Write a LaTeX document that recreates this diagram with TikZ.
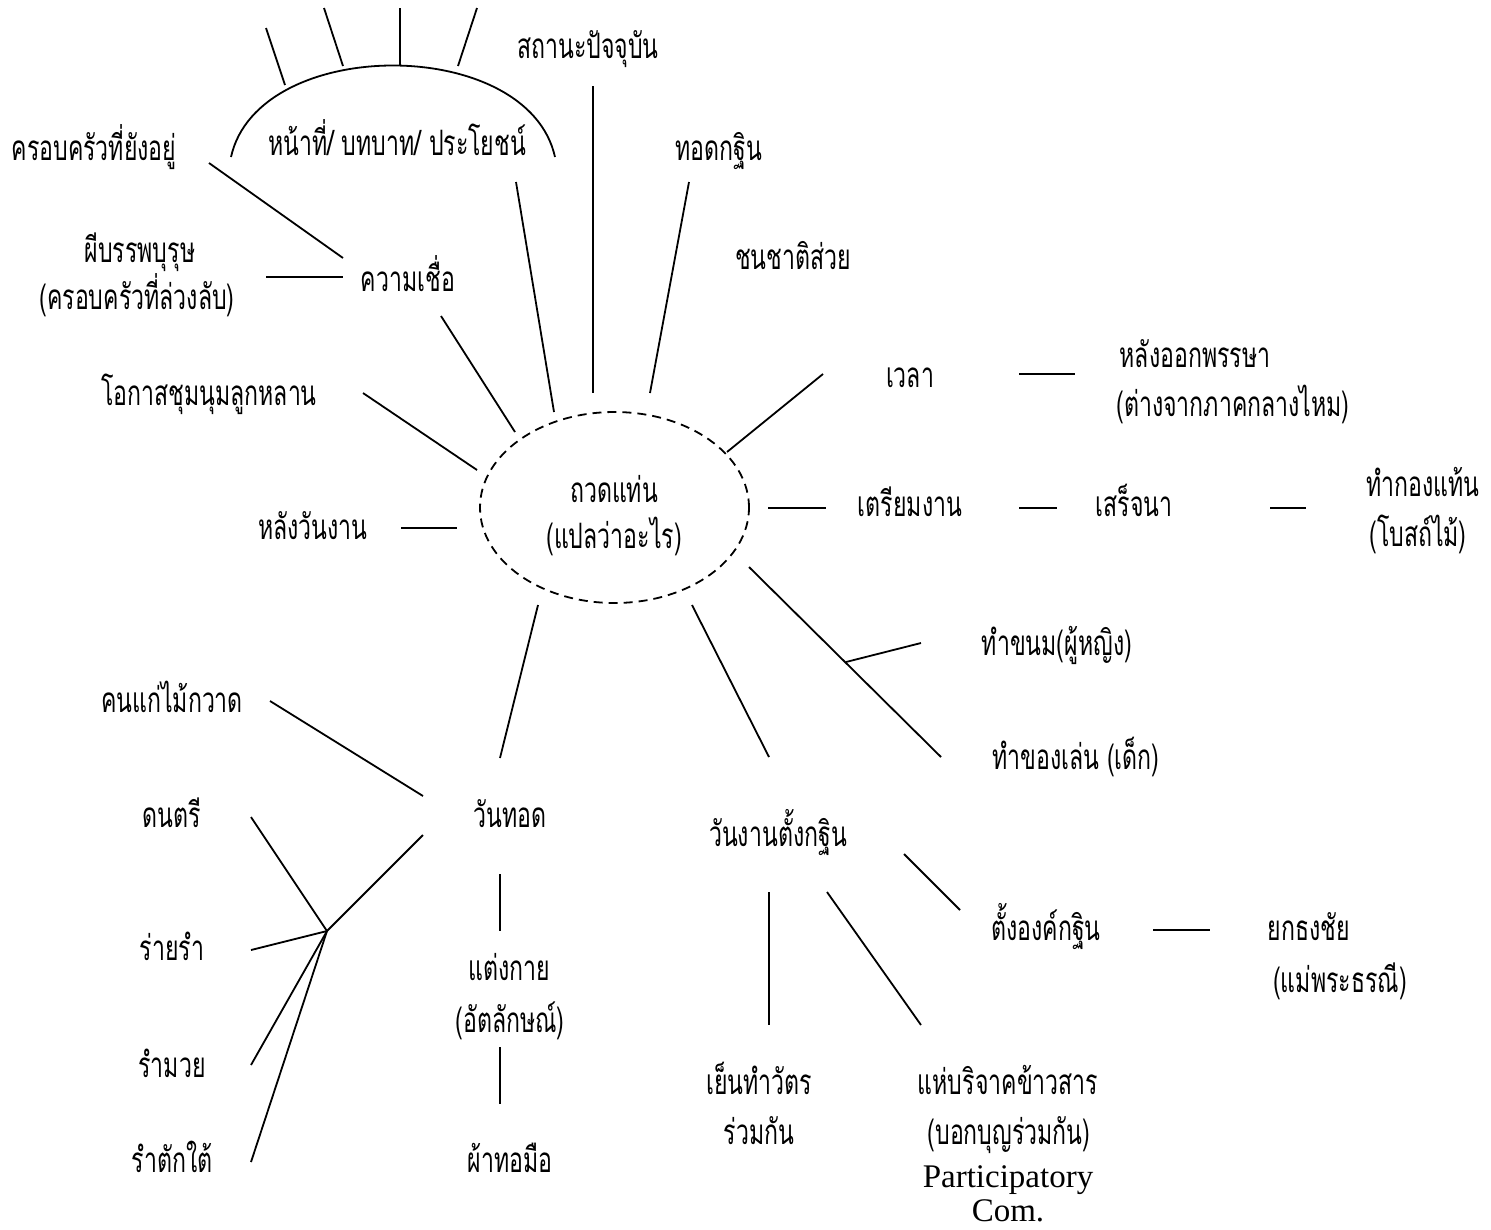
\documentclass[tikz,border=0pt]{standalone}
\usepackage{fontspec}
\usetikzlibrary{shapes.geometric}
\newfontfamily\thaifont[Script=Thai,FakeStretch=0.66]{Loma}
\newfontfamily\latinserif{Liberation Serif}
\begin{document}
\begin{tikzpicture}[x=1pt,y=-1pt,
  lbl/.style={anchor=base, yshift=-12pt, inner sep=0pt, font=\thaifont\fontsize{35}{40}\selectfont},
  lat/.style={anchor=base, yshift=-11pt, inner sep=0pt, font=\latinserif\fontsize{33}{38}\selectfont},
  conn/.style={line width=1.8pt, line cap=butt},
  hubshape/.style={draw, ellipse, dash pattern=on 9pt off 6pt, line width=1.8pt,
                   minimum width=269pt, minimum height=191pt, inner sep=0pt}]
\useasboundingbox (0,0) rectangle (1491,1229);

% central ellipse
\node[hubshape] (hub) at (614.5,507.5) {};
\node[lbl] (hubA) at (614,490) {ถวดแท่น};
\node[lbl] (hubB) at (614,536) {(แปลว่าอะไร)};

% top arc group
\node[lbl] (role) at (397,143) {หน้าที่/ บทบาท/ ประโยชน์};
\coordinate (arcL) at (231,157);
\coordinate (arcR) at (555,157);
\draw[conn] (arcL) .. controls (258,35) and (528,35) .. (arcR);
\coordinate (s1a) at (266,28);  \coordinate (s1b) at (285,85);
\coordinate (s2a) at (324,8);   \coordinate (s2b) at (343,66);
\coordinate (s3a) at (400,8);   \coordinate (s3b) at (400,66);
\coordinate (s4a) at (477,8);   \coordinate (s4b) at (458,66);
\draw[conn] (s1a) -- (s1b);
\draw[conn] (s2a) -- (s2b);
\draw[conn] (s3a) -- (s3b);
\draw[conn] (s4a) -- (s4b);

% top texts
\node[lbl] (family) at (94,148) {ครอบครัวที่ยังอยู่};
\node[lbl] (status) at (588,46) {สถานะปัจจุบัน};
\node[lbl] (thod) at (719,148) {ทอดกฐิน};
\node[lbl] (suai) at (793,257) {ชนชาติส่วย};
\node[lbl] (phiA) at (140,250) {ผีบรรพบุรุษ};
\node[lbl] (phiB) at (137,297) {(ครอบครัวที่ล่วงลับ)};
\node[lbl] (belief) at (408,279) {ความเชื่อ};
\node[lbl] (gather) at (209,393) {โอกาสชุมนุมลูกหลาน};
\node[lbl] (after) at (313,527) {หลังวันงาน};

% connectors upper left
\coordinate (fam1) at (209,163); \coordinate (fam2) at (343,258);
\draw[conn] (fam1) -- (fam2);
\coordinate (phi1) at (266,277); \coordinate (phi2) at (343,277);
\draw[conn] (phi1) -- (phi2);
\coordinate (bel1) at (441,316); \coordinate (bel2) at (515,432);
\draw[conn] (bel1) -- (bel2);
\coordinate (rol1) at (516,182); \coordinate (rol2) at (554,412);
\draw[conn] (rol1) -- (rol2);
\coordinate (sta1) at (593,86); \coordinate (sta2) at (593,393);
\draw[conn] (sta1) -- (sta2);
\coordinate (tho1) at (689,182); \coordinate (tho2) at (650,393);
\draw[conn] (tho1) -- (tho2);
\coordinate (gat1) at (363,393); \coordinate (gat2) at (477,470);
\draw[conn] (gat1) -- (gat2);
\coordinate (aft1) at (401,528); \coordinate (aft2) at (457,528);
\draw[conn] (aft1) -- (aft2);

% right side
\node[lbl] (time) at (910,375) {เวลา};
\node[lbl] (lentA) at (1195,355) {หลังออกพรรษา};
\node[lbl] (lentB) at (1233,404) {(ต่างจากภาคกลางไหม)};
\coordinate (tim1) at (727,452); \coordinate (tim2) at (823,374);
\draw[conn] (tim1) -- (tim2);
\coordinate (len1) at (1019,374); \coordinate (len2) at (1075,374);
\draw[conn] (len1) -- (len2);

\node[lbl] (prep) at (910,504) {เตรียมงาน};
\node[lbl] (field) at (1134,504) {เสร็จนา};
\node[lbl] (makeA) at (1423,484) {ทำกองแท้น};
\node[lbl] (makeB) at (1418,534) {(โบสถ์ไม้)};
\coordinate (pre1) at (768,508); \coordinate (pre2) at (826,508);
\draw[conn] (pre1) -- (pre2);
\coordinate (fie1) at (1019,508); \coordinate (fie2) at (1057,508);
\draw[conn] (fie1) -- (fie2);
\coordinate (mak1) at (1270,508); \coordinate (mak2) at (1306,508);
\draw[conn] (mak1) -- (mak2);

% lower right
\node[lbl] (snack) at (1057,643) {ทำขนม(ผู้หญิง)};
\node[lbl] (toy) at (1076,757) {ทำของเล่น (เด็ก)};
\coordinate (toy1) at (749,567); \coordinate (toy2) at (941,757);
\draw[conn] (toy1) -- (toy2);
\coordinate (sna1) at (846,662); \coordinate (sna2) at (921,643);
\draw[conn] (sna1) -- (sna2);

\node[lbl] (kathin) at (778,834) {วันงานตั้งกฐิน};
\coordinate (kat1) at (692,605); \coordinate (kat2) at (769,757);
\draw[conn] (kat1) -- (kat2);
\node[lbl] (ong) at (1046,928) {ตั้งองค์กฐิน};
\coordinate (ong1) at (904,854); \coordinate (ong2) at (960,910);
\draw[conn] (ong1) -- (ong2);
\node[lbl] (flagA) at (1309,928) {ยกธงชัย};
\node[lbl] (flagB) at (1340,980) {(แม่พระธรณี)};
\coordinate (fla1) at (1153,930); \coordinate (fla2) at (1210,930);
\draw[conn] (fla1) -- (fla2);
\coordinate (yen1) at (769,892); \coordinate (yen2) at (769,1025);
\draw[conn] (yen1) -- (yen2);
\coordinate (don1) at (827,892); \coordinate (don2) at (921,1025);
\draw[conn] (don1) -- (don2);
\node[lbl] (yenA) at (759,1082) {เย็นทำวัตร};
\node[lbl] (yenB) at (759,1132) {ร่วมกัน};
\node[lbl] (donA) at (1008,1082) {แห่บริจาคข้าวสาร};
\node[lbl] (donB) at (1009,1132) {(บอกบุญร่วมกัน)};
\node[lat] (partA) at (1008,1176) {Participatory};
\node[lat] (partB) at (1008,1210) {Com.};

% lower left
\node[lbl] (day) at (510,815) {วันทอด};
\coordinate (day1) at (538,605); \coordinate (day2) at (500,758);
\draw[conn] (day1) -- (day2);
\node[lbl] (old) at (172,700) {คนแก่ไม้กวาด};
\coordinate (old1) at (270,701); \coordinate (old2) at (423,796);
\draw[conn] (old1) -- (old2);
\coordinate (junc) at (327,931);
\coordinate (jd) at (423,835);
\draw[conn] (junc) -- (jd);
\node[lbl] (music) at (172,815) {ดนตรี};
\node[lbl] (dance) at (172,948) {ร่ายรำ};
\node[lbl] (muay) at (172,1065) {รำมวย};
\node[lbl] (tai) at (172,1160) {รำตักใต้};
\coordinate (mus1) at (251,817);
\coordinate (dan1) at (251,950);
\coordinate (muy1) at (251,1065);
\coordinate (tai1) at (251,1162);
\draw[conn] (mus1) -- (junc);
\draw[conn] (dan1) -- (junc);
\draw[conn] (muy1) -- (junc);
\draw[conn] (tai1) -- (junc);

\node[lbl] (dressA) at (509,968) {แต่งกาย};
\node[lbl] (dressB) at (510,1020) {(อัตลักษณ์)};
\node[lbl] (cloth) at (510,1160) {ผ้าทอมือ};
\coordinate (dr1) at (500,874); \coordinate (dr2) at (500,931);
\draw[conn] (dr1) -- (dr2);
\coordinate (cl1) at (500,1047); \coordinate (cl2) at (500,1104);
\draw[conn] (cl1) -- (cl2);
\end{tikzpicture}
\end{document}
